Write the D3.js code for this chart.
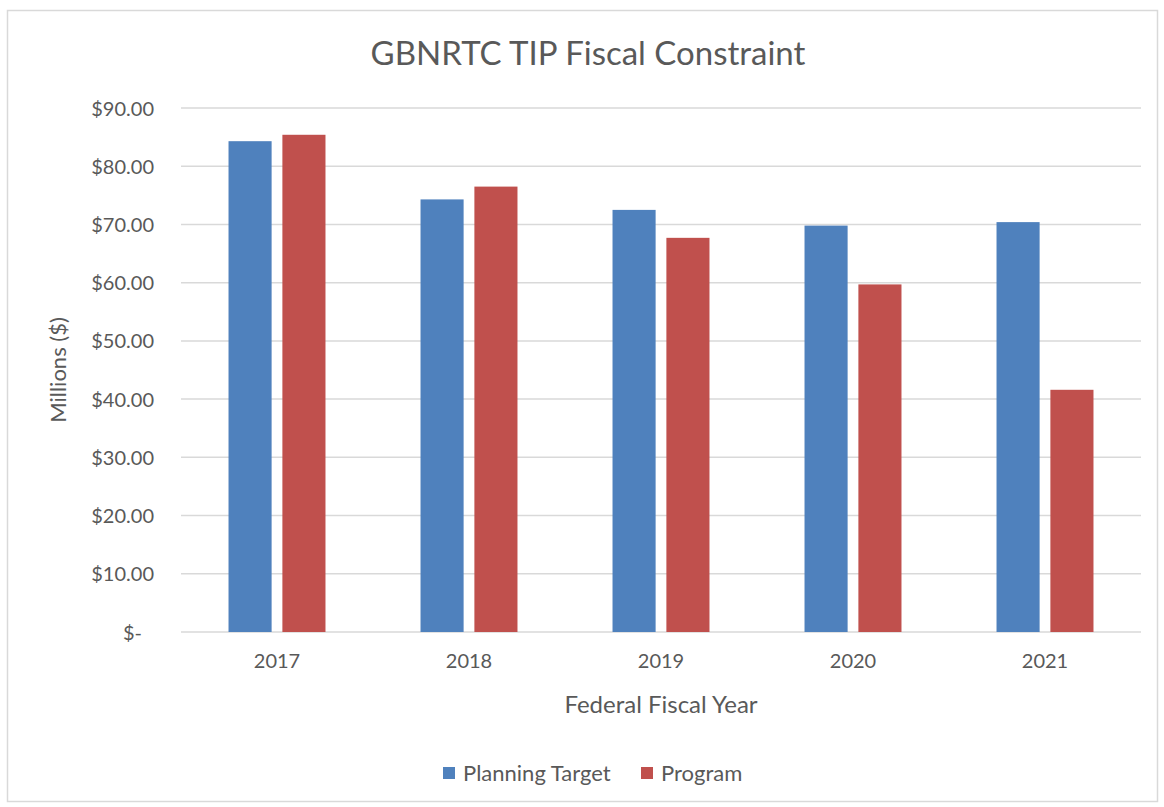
<!DOCTYPE html>
<html>
<head>
<meta charset="utf-8">
<script src="https://cdn.jsdelivr.net/npm/d3@7"></script>
<style>
  body { margin: 0; background: #fff; }
  svg, svg text { font-family: Lato, "Open Sans", sans-serif; }
  svg { display: block; }
  .grid line { stroke: #d9d9d9; stroke-width: 1.5; }
  .tick text { fill: #595959; }
</style>
</head>
<body>
<div id="chart"></div>
<script>
var years = ["2017", "2018", "2019", "2020", "2021"];
var seriesNames = ["Planning Target", "Program"];
var planningTarget = [84.3, 74.3, 72.5, 69.8, 70.4];
var program = [85.4, 76.5, 67.7, 59.7, 41.6];
var yTicks = [0, 10, 20, 30, 40, 50, 60, 70, 80, 90];
var colors = ["#4f81bd", "#c0504d"];

var width = 1164, height = 807;
var plotLeft = 181, plotRight = 1141, plotTop = 108, plotBottom = 632;

var svg = d3.select("#chart")
    .append("svg")
    .attr("width", width)
    .attr("height", height);

// outer frame
svg.append("rect")
    .attr("x", 7.5)
    .attr("y", 10.5)
    .attr("width", 1150)
    .attr("height", 791)
    .attr("fill", "#fff")
    .attr("stroke", "#d9d9d9")
    .attr("stroke-width", 1.5);

var x0 = d3.scaleBand()
    .domain(years)
    .range([plotLeft, plotRight])
    .paddingInner(0.495)
    .paddingOuter(0.2475);

var x1 = d3.scaleBand()
    .domain(seriesNames)
    .range([0, x0.bandwidth()])
    .paddingInner(0.2);

var y = d3.scaleLinear()
    .domain([0, 90])
    .range([plotBottom, plotTop]);

// gridlines
svg.append("g")
    .attr("class", "grid")
    .selectAll("line")
    .data(yTicks)
    .enter()
    .append("line")
    .attr("x1", plotLeft)
    .attr("x2", plotRight)
    .attr("y1", d => y(d))
    .attr("y2", d => y(d));

// y axis labels
var yAxis = svg.append("g")
    .attr("transform", "translate(" + 154 + ",0)")
    .call(d3.axisLeft(y).tickValues(yTicks).tickSize(0).tickPadding(0)
        .tickFormat(d => d === 0 ? "$-" : "$" + d3.format(".2f")(d)));
yAxis.select(".domain").remove();
yAxis.selectAll("text")
    .style("font-size", "20px")
    .attr("dy", "0.35em")
    .attr("x", d => d === 0 ? -12 : 0);

var rows = years.map((yr, i) => ({ year: yr, values: [planningTarget[i], program[i]] }));

var groups = svg.append("g")
    .selectAll("g")
    .data(rows)
    .enter()
    .append("g")
    .attr("transform", d => "translate(" + x0(d.year) + ",0)");

groups.selectAll("rect")
    .data(d => d.values.map((v, j) => ({ name: seriesNames[j], value: v, color: colors[j] })))
    .enter()
    .append("rect")
    .attr("x", d => x1(d.name))
    .attr("width", x1.bandwidth())
    .attr("y", d => y(d.value))
    .attr("height", d => y(0) - y(d.value))
    .attr("fill", d => d.color);

// x axis labels
var xAxis = svg.append("g")
    .attr("transform", "translate(0," + plotBottom + ")")
    .call(d3.axisBottom(x0).tickSize(0).tickPadding(22));
xAxis.select(".domain").remove();
xAxis.selectAll("text").style("font-size", "20px");

// titles
svg.append("text")
    .attr("x", 588)
    .attr("y", 65)
    .style("text-anchor", "middle")
    .style("font-size", "33px")
    .style("fill", "#595959")
    .text("GBNRTC TIP Fiscal Constraint");

svg.append("text")
    .attr("x", (plotLeft + plotRight) / 2)
    .attr("y", 713)
    .style("text-anchor", "middle")
    .style("font-size", "24px")
    .style("fill", "#595959")
    .text("Federal Fiscal Year");

svg.append("text")
    .attr("transform", "translate(66," + (plotTop + plotBottom) / 2 + ") rotate(-90)")
    .style("text-anchor", "middle")
    .style("font-size", "22px")
    .style("fill", "#595959")
    .text("Millions ($)");

// legend
var legendX = [443, 641];
var legend = svg.append("g")
    .selectAll("g")
    .data(seriesNames)
    .enter()
    .append("g")
    .attr("transform", (d, i) => "translate(" + legendX[i] + ",767)");

legend.append("rect")
    .attr("width", 12)
    .attr("height", 12)
    .attr("fill", (d, i) => colors[i]);

legend.append("text")
    .attr("x", 20)
    .attr("y", 6)
    .attr("dy", "0.35em")
    .style("font-size", "22px")
    .style("fill", "#595959")
    .text(d => d);
</script>
</body>
</html>
